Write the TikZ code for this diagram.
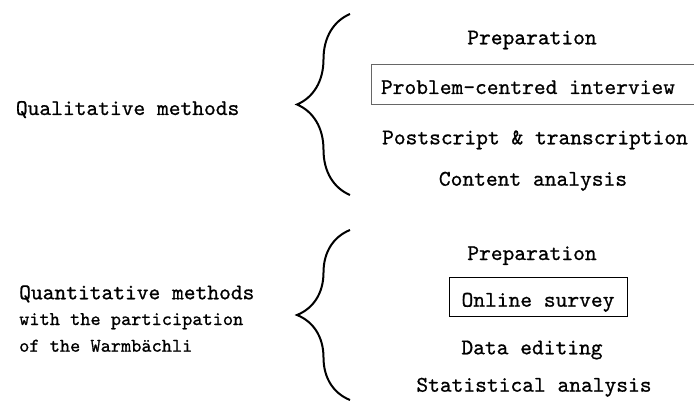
\documentclass[tikz,border=0pt]{standalone}
\usepackage{fontspec}
\setmonofont{lmmono10-regular}[Extension=.otf, FakeBold=0.8]
\usetikzlibrary{decorations.pathreplacing}
\begin{document}
\begin{tikzpicture}[x=1pt,y=-1pt,
  big/.style={font=\ttfamily\fontsize{22.4}{26}\selectfont, inner sep=0pt, anchor=base},
  small/.style={font=\ttfamily\fontsize{19.4}{24}\selectfont, inner sep=0pt, anchor=base west},
  curly/.style={line width=2pt, decorate, decoration={brace, amplitude=53pt, aspect=0.5}},
  framed/.style={draw=black, line width=1pt}]
\useasboundingbox (0,0) rectangle (694,401);
\clip (0,0) rectangle (694,401);

% qualitative block
\node[big, anchor=base west] (qual) at (15.7,115) {Qualitative methods};
\draw[curly] (350,195) -- (350,14);
\node[big] (prep1) at (532,44.3) {Preparation};
\draw[framed, draw=black!60] (371,65) rectangle (702,105);
\node[big] (pci) at (528,94) {Problem-centred interview};
\node[big] (post) at (535,144.3) {Postscript \& transcription};
\node[big] (cont) at (533,185.7) {Content analysis};

% quantitative block
\node[big, anchor=base west] (quant) at (19,299.3) {Quantitative methods};
\node[small] (quant2) at (19,325) {with the participation};
\node[small] (quant3) at (19,351.7) {of the Warmbächli};
\draw[curly] (350,400) -- (350,230);
\node[big] (prep2) at (532,260) {Preparation};
\draw[framed] (449,277.7) rectangle (627,316.7);
\node[big] (survey) at (538,306.7) {Online survey};
\node[big] (edit) at (532,354.3) {Data editing};
\node[big] (stat) at (534,391.7) {Statistical analysis};
\end{tikzpicture}
\end{document}
